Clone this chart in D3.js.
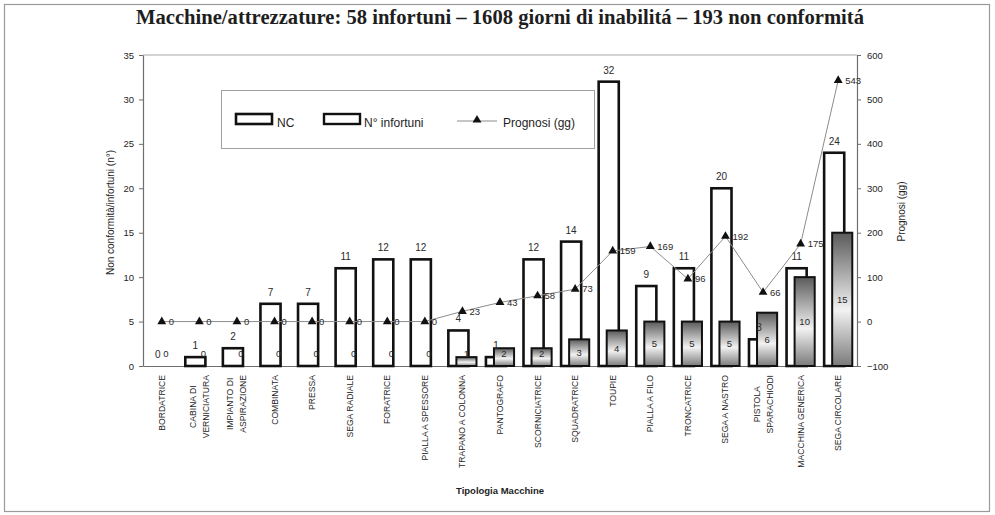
<!DOCTYPE html>
<html>
<head>
<meta charset="utf-8">
<script src="https://cdn.jsdelivr.net/npm/d3@7"></script>
<style>
  body { margin: 0; background: #fff; }
  svg { display: block; }
</style>
</head>
<body>
<svg id="chart" width="995" height="515"></svg>
<script>
// Machine types (line breaks split multi-line axis labels)
const categories = [
  "BORDATRICE", "CABINA DI\nVERNICIATURA", "IMPIANTO DI\nASPIRAZIONE", "COMBINATA",
  "PRESSA", "SEGA RADIALE", "FORATRICE", "PIALLA A SPESSORE", "TRAPANO A COLONNA",
  "PANTOGRAFO", "SCORNICIATRICE", "SQUADRATRICE", "TOUPIE", "PIALLA A FILO",
  "TRONCATRICE", "SEGA A NASTRO", "PISTOLA\nSPARACHIODI", "MACCHINA GENERICA",
  "SEGA CIRCOLARE"
];
// Non conformità per machine type
const nonConformita = [0, 1, 2, 7, 7, 11, 12, 12, 4, 1, 12, 14, 32, 9, 11, 20, 3, 11, 24];
// Number of accidents per machine type
const infortuni = [0, 0, 0, 0, 0, 0, 0, 0, 1, 2, 2, 3, 4, 5, 5, 5, 6, 10, 15];
// Days of prognosis per machine type
const prognosi = [0, 0, 0, 0, 0, 0, 0, 0, 23, 43, 58, 73, 159, 169, 96, 192, 66, 175, 543];

const leftTicks = [0, 5, 10, 15, 20, 25, 30, 35];
const rightTicks = [-100, 0, 100, 200, 300, 400, 500, 600];

const titleText = "Macchine/attrezzature: 58 infortuni  \u2013 1608 giorni di inabilit\u00e1 \u2013 193 non conformit\u00e1";
const yTitleLeft = "Non conformit\u00e0/infortuni (n\u00b0)";
const yTitleRight = "Prognosi (gg)";
const xTitle = "Tipologia Macchine";
const legendLabels = ["NC", "N\u00b0 infortuni", "Prognosi (gg)"];

const SANS = "'Liberation Sans', Arial, sans-serif";
const SERIF = "'Liberation Serif', 'Times New Roman', serif";
const INK = "#1e1e1e";

const svg = d3.select("#chart");
const plot = { left: 143, right: 857, top: 55, bottom: 366 };

// Outer frame
svg.append("rect")
  .attr("x", 4.5).attr("y", 4.5).attr("width", 985).attr("height", 507)
  .attr("fill", "none").attr("stroke", "#9a9a9a").attr("stroke-width", 1.2);

// Gradient used by the accident bars
const defs = svg.append("defs");
const grad = defs.append("linearGradient")
  .attr("id", "infGrad").attr("x1", 0).attr("y1", 0).attr("x2", 0).attr("y2", 1);
grad.append("stop").attr("offset", "0%").attr("stop-color", "#5a5a5a");
grad.append("stop").attr("offset", "58%").attr("stop-color", "#f2f2f2");
grad.append("stop").attr("offset", "100%").attr("stop-color", "#7a7a7a");

// Scales
const x = d3.scaleBand().domain(d3.range(categories.length))
  .range([plot.left, plot.right]).paddingInner(0).paddingOuter(0);
const yL = d3.scaleLinear().domain([0, 35]).range([plot.bottom, plot.top]);
const yR = d3.scaleLinear().domain([-100, 600]).range([plot.bottom, plot.top]);

const bw = x.bandwidth() * 0.535;      // bar width
const off = bw * 0.2;                   // half of the non-overlapping part
const cx = i => x(i) + x.bandwidth() / 2;

// Title
const title = svg.append("text")
  .attr("x", 500).attr("y", 24)
  .attr("text-anchor", "middle")
  .attr("font-family", SERIF).attr("font-weight", "bold")
  .attr("font-size", 17).attr("fill", INK)
  .text(titleText);
{
  const w = title.node().getComputedTextLength();
  title.attr("font-size", 17 * 728 / w);
}

// Plot top border
svg.append("line")
  .attr("x1", plot.left).attr("x2", plot.right)
  .attr("y1", plot.top).attr("y2", plot.top)
  .attr("stroke", "#a8a8a8").attr("stroke-width", 1);

// Axes
const styleAxis = g => {
  g.select(".domain").attr("stroke", "#6e6e6e").attr("stroke-width", 1.2);
  g.selectAll(".tick line").attr("stroke", "#6e6e6e");
  g.selectAll(".tick text").attr("fill", INK).attr("font-family", SANS).attr("font-size", 9.5);
};
svg.append("g").attr("transform", `translate(${plot.left},0)`)
  .call(d3.axisLeft(yL).tickValues(leftTicks).tickSize(4).tickPadding(5).tickSizeOuter(0))
  .call(styleAxis);
svg.append("g").attr("transform", `translate(${plot.right},0)`)
  .call(d3.axisRight(yR).tickValues(rightTicks).tickSize(4).tickPadding(6).tickSizeOuter(0))
  .call(styleAxis);
svg.append("g").attr("transform", `translate(0,${plot.bottom})`)
  .call(d3.axisBottom(x).tickSize(0).tickFormat(""))
  .call(styleAxis);

// Axis titles
svg.append("text")
  .attr("transform", `translate(114,${(plot.top + plot.bottom) / 2 + 2}) rotate(-90)`)
  .attr("text-anchor", "middle").attr("font-family", SANS).attr("font-size", 10)
  .attr("fill", INK).text(yTitleLeft);
svg.append("text")
  .attr("transform", `translate(905,${(plot.top + plot.bottom) / 2 + 1}) rotate(-90)`)
  .attr("text-anchor", "middle").attr("font-family", SANS).attr("font-size", 10)
  .attr("fill", INK).text(yTitleRight);
svg.append("text")
  .attr("x", 500).attr("y", 494)
  .attr("text-anchor", "middle").attr("font-family", SANS).attr("font-size", 9.5)
  .attr("font-weight", "bold").attr("fill", INK).text(xTitle);

// Category labels, rotated, hanging from the axis
const labG = svg.append("g");
categories.forEach((c, i) => {
  const lines = c.split("\n");
  const g = labG.append("g");
  const texts = lines.map((ln, k) => g.append("text")
    .attr("font-family", SANS).attr("font-size", 8.6).attr("fill", INK)
    .attr("text-anchor", "middle").attr("dy", "0.35em").text(ln));
  const maxLen = d3.max(texts, t => t.node().getComputedTextLength());
  const yc = 375 + maxLen / 2;
  texts.forEach((t, k) => {
    const xx = cx(i) + (k - (lines.length - 1) / 2) * 13;
    t.attr("transform", `translate(${xx},${yc}) rotate(-90)`);
  });
});

// NC bars
svg.append("g").selectAll("rect").data(nonConformita).join("rect")
  .attr("x", (d, i) => cx(i) - off - bw / 2)
  .attr("y", d => yL(d))
  .attr("width", bw)
  .attr("height", d => yL(0) - yL(d))
  .attr("fill", "#fff").attr("stroke", "#111").attr("stroke-width", 2.6);

// Accident bars (drawn over NC bars)
svg.append("g").selectAll("rect").data(infortuni).join("rect")
  .attr("x", (d, i) => cx(i) + off - bw / 2)
  .attr("y", d => yL(d))
  .attr("width", bw)
  .attr("height", d => yL(0) - yL(d))
  .attr("fill", "url(#infGrad)").attr("stroke", "#111").attr("stroke-width", 2);

// NC value labels
svg.append("g").selectAll("text").data(nonConformita).join("text")
  .attr("x", (d, i) => cx(i) - off)
  .attr("y", d => yL(d) - 8)
  .attr("text-anchor", "middle").attr("font-family", SANS).attr("font-size", 10)
  .attr("fill", "#2a2a2a").text(d => d);

// Accident value labels
svg.append("g").selectAll("text").data(infortuni).join("text")
  .attr("x", (d, i) => cx(i) + off)
  .attr("y", d => Math.min(yL(d / 2), yL(0) - 12))
  .attr("dy", "0.35em")
  .attr("text-anchor", "middle").attr("font-family", SANS).attr("font-size", 9.5)
  .attr("fill", "#2a2a2a").text(d => d);

// Prognosis line and markers
const line = d3.line().x((d, i) => cx(i)).y(d => yR(d));
svg.append("path").datum(prognosi)
  .attr("d", line).attr("fill", "none")
  .attr("stroke", "#8c8c8c").attr("stroke-width", 1);
const tri = d3.symbol(d3.symbolTriangle, 34);
svg.append("g").selectAll("path").data(prognosi).join("path")
  .attr("transform", (d, i) => `translate(${cx(i)},${yR(d)})`)
  .attr("d", tri).attr("fill", "#111");
svg.append("g").selectAll("text").data(prognosi).join("text")
  .attr("x", (d, i) => cx(i) + 7)
  .attr("y", d => yR(d))
  .attr("dy", "0.35em")
  .attr("font-family", SANS).attr("font-size", 9.5)
  .attr("fill", "#2a2a2a").text(d => d);

// Legend
const lg = svg.append("g");
lg.append("rect")
  .attr("x", 221.5).attr("y", 90.5).attr("width", 373).attr("height", 58)
  .attr("fill", "#fff").attr("stroke", "#a0a0a0").attr("stroke-width", 1);
lg.append("rect").attr("x", 236).attr("y", 114).attr("width", 36).attr("height", 10)
  .attr("fill", "#fff").attr("stroke", "#111").attr("stroke-width", 2.6);
lg.append("text").attr("x", 277).attr("y", 127)
  .attr("font-family", SANS).attr("font-size", 12).attr("fill", INK).text(legendLabels[0]);
lg.append("rect").attr("x", 324).attr("y", 114).attr("width", 36).attr("height", 10)
  .attr("fill", "#fff").attr("stroke", "#111").attr("stroke-width", 2.4);
lg.append("text").attr("x", 364).attr("y", 127)
  .attr("font-family", SANS).attr("font-size", 12).attr("fill", INK).text(legendLabels[1]);
lg.append("line").attr("x1", 457).attr("x2", 497).attr("y1", 121).attr("y2", 121)
  .attr("stroke", "#8c8c8c").attr("stroke-width", 1);
lg.append("path").attr("transform", "translate(477,120)").attr("d", tri).attr("fill", "#111");
lg.append("text").attr("x", 503).attr("y", 127)
  .attr("font-family", SANS).attr("font-size", 12).attr("fill", INK).text(legendLabels[2]);
</script>
</body>
</html>
